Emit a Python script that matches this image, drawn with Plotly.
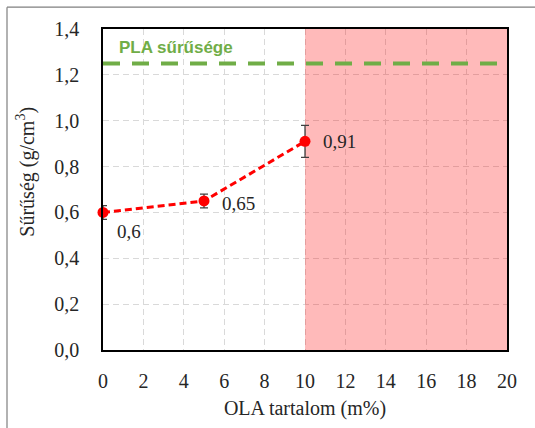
import plotly.graph_objects as go

# Data
ola = [0, 5, 10]
density = [0.60, 0.65, 0.91]
density_err = [0.03, 0.03, 0.07]
labels = ["0,6", "0,65", "0,91"]
pla_x = [0, 20]
pla_density = [1.25, 1.25]
pla_label = "PLA sűrűsége"
region_x = [10, 20]
x_ticks = [0, 2, 4, 6, 8, 10, 12, 14, 16, 18, 20]
y_ticks = [0.0, 0.2, 0.4, 0.6, 0.8, 1.0, 1.2, 1.4]

W, H = 535, 428
ml, mr, mt, mb = 103, 28, 29, 75
pw, ph = W - ml - mr, H - mt - mb

serif = "'Liberation Serif', 'Times New Roman', Times, serif"

fig = go.Figure()

fig.add_trace(go.Scatter(
    x=pla_x, y=pla_density, mode="lines",
    line=dict(color="#70AD47", width=4, dash="17px,12px"),
    hoverinfo="skip", showlegend=False, cliponaxis=False,
))

fig.add_trace(go.Scatter(
    x=ola, y=density, mode="lines+markers",
    line=dict(color="#FF0000", width=3, dash="7px,4px"),
    marker=dict(color="#FF0000", size=11),
    error_y=dict(type="data", array=density_err, visible=True,
                 color="#404040", thickness=1.3, width=4),
    showlegend=False, cliponaxis=False,
))

# highlighted region
fig.add_shape(type="rect", xref="x", yref="y",
              x0=region_x[0], x1=region_x[1], y0=y_ticks[0], y1=y_ticks[-1],
              fillcolor="rgba(255,0,0,0.27)", line=dict(width=0), layer="between")

# data labels
offsets = [(26, -19, "center"), (16, -3, "left"), (16, 0, "left")]
for xv, yv, lab, (dx, dy, anc) in zip(ola, density, labels, offsets):
    fig.add_annotation(x=xv, y=yv, text=lab, showarrow=False, xanchor=anc,
                       yanchor="middle", xshift=dx, yshift=dy,
                       font=dict(family=serif, size=19, color="#262626"))

fig.add_annotation(x=0.69, y=1.318, text="<b>" + pla_label + "</b>", showarrow=False,
                   xanchor="left", yanchor="middle",
                   font=dict(family="'Liberation Sans', Arial, sans-serif", size=17, color="#70AD47"))

# y title
fig.add_annotation(xref="paper", yref="paper", x=(26 - ml) / pw, y=(H - mb - 173) / ph,
                   xanchor="center", yanchor="middle",
                   text="Sűrűség (g/cm<sup>3</sup>)", showarrow=False, textangle=-90,
                   font=dict(family=serif, size=20, color="#262626"))

# outer frame (left and top lines)
fx0 = (7 - ml) / pw
fy_top = (H - mb - 7) / ph
fig.add_shape(type="line", xref="paper", yref="paper", x0=fx0, x1=fx0,
              y0=fy_top, y1=-(mb + 5) / ph, line=dict(color="#7F7F7F", width=1.2))
fig.add_shape(type="line", xref="paper", yref="paper", x0=fx0, x1=(W - ml + 5) / pw,
              y0=fy_top, y1=fy_top, line=dict(color="#7F7F7F", width=1.2))

grid = dict(showgrid=True, gridcolor="#D9D9D9", gridwidth=1, griddash="6px,4px")

fig.update_xaxes(range=[0, 20], tickvals=x_ticks, ticks="", showline=True, mirror=True,
                 linecolor="#000000", linewidth=1.5, zeroline=False,
                 ticklabelstandoff=12,
                 tickfont=dict(family=serif, size=20, color="#262626"),
                 title=dict(text="OLA tartalom (m%)", standoff=10,
                            font=dict(family=serif, size=20, color="#262626")),
                 **grid)
fig.update_yaxes(range=[0, 1.4], tickvals=y_ticks, tickformat=".1f", ticks="",
                 showline=True, mirror=True, linecolor="#000000", linewidth=1.5,
                 zeroline=False, ticklabelstandoff=18,
                 tickfont=dict(family=serif, size=20, color="#262626"),
                 **grid)

fig.update_layout(
    width=W, height=H, autosize=False,
    margin=dict(l=ml, r=mr, t=mt, b=mb),
    paper_bgcolor="white", plot_bgcolor="white",
    separators=",.",
    showlegend=False,
    font=dict(family=serif),
)

fig.write_html("out.html")
